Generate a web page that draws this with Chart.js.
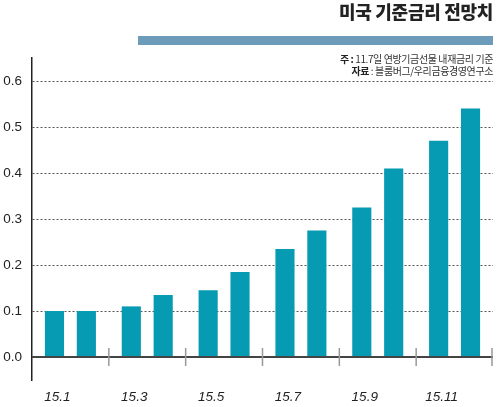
<!DOCTYPE html>
<html>
<head>
<meta charset="utf-8">
<script src="https://cdn.jsdelivr.net/npm/chart.js@4"></script>
<style>
  body { margin: 0; background: #fff; }
  #wrap { position: relative; width: 500px; height: 407px; }
  #title { position: absolute; right: 7px; top: 2px; font: 900 18px/18px "Noto Sans CJK KR"; color: #222; letter-spacing: -0.3px; }
  #band { position: absolute; left: 138px; top: 36px; width: 355px; height: 9px; background: #6c9cb9; }
  #note { position: absolute; right: 7px; top: 53px; font: 10px/12px "Noto Sans CJK KR"; color: #333; text-align: right; letter-spacing: -0.4px; }
  #note b { font-weight: bold; color: #222; }
</style>
</head>
<body>
<div id="wrap">
  <canvas id="myChart"></canvas>
  <div id="title">미국 기준금리 전망치</div>
  <div id="band"></div>
  <div id="note"><b>주 :</b> 11.7일 연방기금선물 내재금리 기준<br><b>자료</b> : 블룸버그/우리금융경영연구소</div>
</div>
<script>
// data: two bars per label (odd month, even month)
var labels = ['15.1', '15.3', '15.5', '15.7', '15.9', '15.11'];
var oddMonths = [0.1, 0.11, 0.145, 0.235, 0.325, 0.47];
var evenMonths = [0.1, 0.135, 0.185, 0.275, 0.41, 0.54];
var yTicks = [0, 0.1, 0.2, 0.3, 0.4, 0.5, 0.6];

var barColor = '#079ab3';

// baseline at zero and the little tick marks between the groups
var baseline = {
    id: 'baseline',
    afterDraw(chart) {
        const ctx = chart.ctx;
        const x = chart.scales.x;
        const y0 = chart.scales.y.getPixelForValue(0);
        const area = chart.chartArea;
        const step = x.getPixelForTick(1) - x.getPixelForTick(0);
        ctx.save();
        ctx.strokeStyle = '#444444';
        ctx.lineWidth = 2;
        ctx.beginPath();
        ctx.moveTo(area.left, y0);
        ctx.lineTo(area.right, y0);
        ctx.stroke();
        ctx.strokeStyle = '#999999';
        ctx.lineWidth = 1.5;
        for (let i = 0; i < labels.length; i++) {
            const px = Math.min(x.getPixelForTick(i) + step / 2, area.right - 1);
            ctx.beginPath();
            ctx.moveTo(px, y0 - 9);
            ctx.lineTo(px, y0 + 9);
            ctx.stroke();
        }
        ctx.restore();
    }
};

function createChart() {
    const ctx = document.getElementById('myChart').getContext('2d');
    const myChart = new Chart(ctx, {
        type: 'bar',
        data: {
            labels: labels,
            datasets: [{
                data: oddMonths,
                backgroundColor: barColor
            }, {
                data: evenMonths,
                backgroundColor: barColor
            }]
        },
        options: {
            responsive: true,
            maintainAspectRatio: false,
            animation: false,
            categoryPercentage: 0.83,
            barPercentage: 0.6,
            layout: { padding: { top: 58, right: 7, left: 0, bottom: 0 } },
            plugins: {
                legend: { display: false },
                tooltip: { enabled: false }
            },
            scales: {
                x: {
                    grid: { display: false },
                    border: { display: false },
                    ticks: {
                        color: '#222',
                        font: { family: 'Liberation Sans', size: 13.5, style: 'italic' },
                        padding: 1,
                        labelOffset: -13,
                        maxRotation: 0
                    },
                    afterFit(scale) { scale.height = 27; }
                },
                y: {
                    min: -0.05,
                    max: 0.65,
                    afterBuildTicks(scale) {
                        scale.ticks = yTicks.map(v => ({ value: v }));
                    },
                    grid: {
                        drawTicks: false,
                        color: (c) => c.tick && c.tick.value === 0 ? 'rgba(0,0,0,0)' : '#555',
                        lineWidth: 1
                    },
                    border: { color: '#222', width: 1.5, dash: [2, 2] },
                    ticks: {
                        color: '#222',
                        font: { family: 'Liberation Sans', size: 13.5 },
                        padding: 10,
                        callback: (v) => v.toFixed(1)
                    },
                    afterFit(scale) { scale.width = 32; }
                }
            }
        },
        plugins: [baseline]
    });
}

createChart();
</script>
</body>
</html>
